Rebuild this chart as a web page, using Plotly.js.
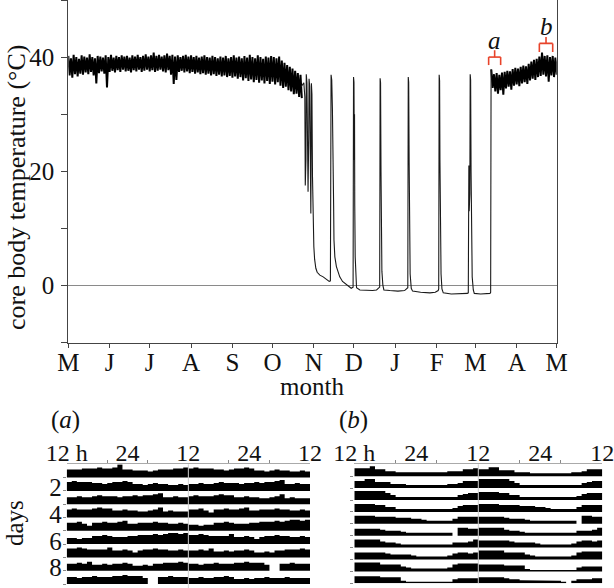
<!DOCTYPE html>
<html>
<head>
<meta charset="utf-8">
<script src="https://cdn.plot.ly/plotly-3.0.1.min.js"></script>
<style>
    html, body { margin: 0; padding: 0; background: #fff; }
    #chart { width: 614px; height: 588px; }
</style>
</head>
<body>
<div id="chart"></div>
<script>
// x axis of the year-long record
const monthStarts = ['2007-05-01', '2007-06-01', '2007-07-01', '2007-08-01', '2007-09-01', '2007-10-01',
    '2007-11-01', '2007-12-01', '2008-01-01', '2008-02-01', '2008-03-01', '2008-04-01', '2008-05-01'];
const monthLabels = ['M', 'J', 'J', 'A', 'S', 'O', 'N', 'D', 'J', 'F', 'M', 'A', 'M'];

// euthermic band before hibernation: upper / lower edge, one reading every 2 days from 1 May
const summerStart = '2007-05-01';
const summerHigh = [40.2, 39.8, 40.4, 40.0, 39.7, 40.3, 40.1, 39.9, 40.5, 40.0,
    39.8, 40.2, 40.1, 39.9, 40.3, 40.0, 40.4, 39.9, 40.2, 40.0,
    40.3, 40.1, 40.2, 39.9, 40.3, 40.1, 40.4, 40.0, 40.2, 40.5,
    40.1, 40.3, 40.8, 40.2, 40.4, 40.1, 40.3, 40.6, 40.2, 40.4,
    40.1, 40.3, 40.0, 40.2, 40.4, 40.1, 40.3, 40.0, 40.2, 39.9,
    40.1, 40.3, 40.0, 39.9, 40.2, 40.0, 39.8, 40.1, 39.9, 40.2,
    39.8, 40.0, 40.3, 39.9, 40.1, 39.8, 40.2, 39.9, 40.4, 40.0,
    39.8, 40.3, 40.0, 39.7, 40.1, 39.9, 40.2, 40.0, 39.8, 40.1,
    39.4, 39.0, 38.6, 38.3, 38.0, 37.6, 37.2, 36.9];
const summerLow = [36.8, 36.4, 37.0, 36.6, 37.1, 36.9, 37.3, 37.0, 37.4, 36.8,
    35.4, 37.2, 37.5, 37.1, 34.7, 37.4, 37.6, 37.3, 37.7, 37.4,
    37.8, 37.5, 37.6, 37.3, 37.7, 37.5, 37.8, 37.4, 37.6, 37.8,
    37.5, 37.7, 37.4, 37.6, 37.8, 37.5, 37.3, 37.7, 36.9, 35.3,
    36.0, 37.4, 37.6, 37.3, 37.5, 37.2, 37.4, 37.1, 37.3, 37.0,
    37.2, 36.9, 37.1, 36.8, 37.0, 36.7, 36.9, 36.6, 36.8, 36.5,
    36.7, 36.4, 36.6, 36.2, 36.5, 35.9, 36.3, 35.8, 36.1, 35.6,
    36.0, 35.5, 35.9, 35.4, 35.8, 35.3, 35.7, 35.2, 35.6, 35.0,
    34.6, 34.8, 34.2, 34.0, 33.5, 33.6, 33.0, 32.8];

// test drops, torpor bouts and arousals
const torporTimes = [
    '2007-10-22 12:00', '2007-10-24 12:00', '2007-10-25 06:00', '2007-10-25 14:00', '2007-10-26 02:00',
    '2007-10-26 08:00', '2007-10-26 20:00', '2007-10-27 08:00', '2007-10-27 16:00', '2007-10-28 04:00',
    '2007-10-28 10:00', '2007-10-28 22:00', '2007-10-29 10:00', '2007-10-29 18:00', '2007-10-30 00:00',
    '2007-10-30 04:00', '2007-10-30 14:00', '2007-10-31 00:00', '2007-10-31 12:00', '2007-11-01 00:00',
    '2007-11-01 14:00', '2007-11-02 12:00', '2007-11-03 12:00', '2007-11-05 12:00', '2007-11-08 00:00',
    '2007-11-10 12:00', '2007-11-12 12:00', '2007-11-13 10:00',
    '2007-11-13 16:00', '2007-11-13 22:00', '2007-11-14 10:00', '2007-11-14 22:00', '2007-11-15 10:00',
    '2007-11-15 20:00', '2007-11-16 02:00', '2007-11-16 18:00', '2007-11-17 22:00', '2007-11-20 10:00',
    '2007-11-22 12:00', '2007-11-25 10:00', '2007-11-29 00:00', '2007-11-30 10:00',
    '2007-11-30 14:00', '2007-11-30 18:00', '2007-12-01 02:00', '2007-12-01 08:00', '2007-12-01 12:00',
    '2007-12-01 16:00', '2007-12-02 00:00', '2007-12-02 12:00', '2007-12-03 00:00', '2007-12-05 12:00',
    '2007-12-10 12:00', '2007-12-15 00:00', '2007-12-18 00:00', '2007-12-19 18:00', '2007-12-20 08:00',
    '2007-12-20 12:00', '2007-12-20 16:00', '2007-12-21 00:00', '2007-12-21 08:00', '2007-12-21 14:00',
    '2007-12-22 00:00', '2007-12-22 18:00', '2007-12-23 12:00', '2007-12-28 00:00', '2008-01-03 00:00',
    '2008-01-08 00:00', '2008-01-09 18:00', '2008-01-10 10:00',
    '2008-01-10 14:00', '2008-01-10 18:00', '2008-01-11 02:00', '2008-01-11 10:00', '2008-01-11 16:00',
    '2008-01-12 04:00', '2008-01-13 00:00', '2008-01-14 00:00', '2008-01-20 00:00', '2008-01-27 00:00',
    '2008-01-31 00:00', '2008-02-02 04:00', '2008-02-02 14:00',
    '2008-02-02 18:00', '2008-02-02 22:00', '2008-02-03 06:00', '2008-02-03 12:00', '2008-02-03 20:00',
    '2008-02-04 08:00', '2008-02-05 00:00', '2008-02-06 00:00', '2008-02-12 00:00', '2008-02-18 00:00',
    '2008-02-24 00:00', '2008-02-24 18:00', '2008-02-25 04:00', '2008-02-25 10:00', '2008-02-25 22:00',
    '2008-02-26 04:00', '2008-02-26 12:00', '2008-02-26 20:00', '2008-02-27 04:00', '2008-02-27 16:00',
    '2008-02-28 12:00', '2008-02-29 06:00', '2008-03-05 00:00', '2008-03-10 00:00', '2008-03-12 00:00',
    '2008-03-12 12:00', '2008-03-12 16:00', '2008-03-12 20:00', '2008-03-13 00:00'
];
const torporTemps = [
    34.8, 35.5, 33.0, 17.5, 22.0,
    37.0, 35.5, 24.0, 16.4, 26.0,
    36.2, 34.8, 21.0, 12.6, 24.0,
    35.4, 33.5, 19.0, 10.5, 6.8,
    4.6, 3.0, 2.3, 1.8, 1.5,
    1.1, 0.7, 0.8,
    20.0, 36.9, 36.0, 31.0, 25.0,
    14.0, 8.0, 5.0, 3.3, 1.5,
    0.7, 0.1, -0.5, -0.3,
    14.0, 36.5, 35.6, 22.0, 30.0,
    14.0, 5.0, 1.0, -0.4, -0.8,
    -0.9, -0.9, -0.8, -0.5, -0.3,
    16.0, 36.3, 35.5, 20.0, 8.0,
    2.5, 0.0, -0.8, -0.9, -1.0,
    -0.9, -0.6, -0.4,
    18.0, 36.5, 35.6, 22.0, 9.0,
    2.0, -0.5, -1.0, -1.2, -1.3,
    -1.2, -0.9, -0.6,
    18.0, 36.9, 35.8, 22.0, 9.0,
    2.0, -0.6, -1.3, -1.5, -1.5,
    -1.4, -1.3, 21.0, 13.0, 16.0,
    37.0, 36.0, 20.0, 8.0, 1.5,
    -0.8, -1.4, -1.5, -1.5, -1.4,
    -1.2, 20.0, 37.9, 37.0
];

// euthermic band after the final arousal, every 2 days from 13 March
const springStart = '2008-03-13';
const springHigh = [37.8, 37.0, 37.2, 36.9, 37.3, 37.4, 37.6, 37.5, 37.9, 38.1, 38.0, 38.3, 38.5,
    38.4, 38.8, 39.2, 39.5, 39.7, 40.1, 40.8, 40.2, 40.3, 40.0, 40.2, 39.9, 39.8];
const springLow = [34.6, 34.0, 33.6, 34.2, 33.4, 34.5, 34.8, 34.3, 35.0, 35.2, 34.9, 35.4, 35.6,
    35.3, 35.9, 36.2, 36.0, 36.5, 36.7, 36.9, 36.6, 35.7, 36.8, 36.5, 36.9, 36.6];

// periods shown in the actograms below
const periodNames = ['a', 'b'];
const periodStarts = ['2008-03-11', '2008-04-18'];
const periodEnds = ['2008-03-20', '2008-04-28'];

// actograms: hourly activity, noon to noon, one array per day (double plotted)
const hourTicks = [12, 24, 36, 48, 60];
const hourLabels = ['12 h', '24', '12', '24', '12'];
const activityA = [
    [8, 8, 8, 9, 9, 9, 10, 9, 9, 10, 13, 8, 8, 7, 7, 7, 6, 7, 8, 8, 8, 9, 9, 10],
    [9, 10, 9, 9, 9, 8, 8, 7, 8, 9, 9, 10, 9, 7, 7, 6, 7, 8, 7, 7, 6, 6, 7, 6],
    [7, 7, 8, 7, 7, 8, 9, 8, 8, 8, 7, 8, 8, 9, 8, 9, 9, 10, 11, 7, 7, 8, 7, 7],
    [8, 9, 8, 8, 8, 9, 10, 9, 9, 7, 7, 8, 7, 7, 6, 6, 7, 8, 10, 6, 7, 6, 6, 6],
    [8, 8, 9, 7, 5, 8, 8, 9, 8, 8, 9, 10, 7, 7, 8, 8, 8, 9, 8, 8, 7, 7, 8, 7],
    [6, 6, 5, 6, 6, 8, 8, 9, 8, 7, 7, 7, 8, 8, 9, 9, 9, 10, 9, 10, 11, 11, 10, 11],
    [9, 9, 10, 9, 8, 8, 8, 8, 10, 7, 7, 8, 7, 5, 7, 8, 8, 9, 8, 8, 7, 7, 8, 7],
    [7, 7, 8, 7, 9, 6, 6, 7, 6, 7, 7, 8, 7, 5, 5, 6, 5, 7, 7, 8, 8, 8, 9, 8],
    [7, 7, 6, 7, 7, 8, 7, 7, 7, 8, 8, 9, 8, 8, 8, 6, 0, 0, 7, 7, 8, 7, 7, 7],
    [6, 6, 7, 6, 6, 7, 7, 8, 7, 5, 5, 6, 5, 6, 6, 7, 6, 6, 6, 7, 6, 6, 6, 6]
];
const activityB = [
    [8, 8, 8, 10, 7, 7, 5, 5, 4, 4, 4, 4, 4, 4, 4, 4, 4, 4, 5, 5, 5, 7, 7, 8],
    [7, 7, 9, 9, 6, 6, 6, 4, 4, 4, 3, 2.5, 2.5, 2.5, 2.5, 2.5, 2.5, 3, 4, 4, 5, 7, 7, 7],
    [9, 9, 9, 9, 9, 9, 7, 5, 3, 2.5, 2.5, 2.5, 2.5, 2.5, 2.5, 2.5, 2.5, 2.5, 3, 3, 5, 6, 7, 7],
    [8, 8, 8, 8, 7, 7, 5, 5, 3, 3, 3, 3, 3, 3, 3, 3, 3, 3, 3, 4, 6, 7, 7, 7],
    [8, 8, 8, 8, 7, 7, 7, 7, 6, 6, 6, 5, 5, 4, 3, 3, 3, 3, 3, 5, 7, 7, 7, 7],
    [7, 7, 7, 7, 7, 6, 5, 5, 5, 4, 3, 3, 3, 3, 3, 3, 3, 3, 3, 0, 8, 8, 7, 7],
    [8, 8, 8, 8, 8, 6, 5, 5, 4, 3, 3, 2.5, 2.5, 2.5, 2.5, 2.5, 2.5, 2.5, 3, 5, 5, 5, 6, 8],
    [7, 7, 7, 7, 7, 7, 6, 5, 5, 5, 5, 4, 3, 3, 3, 3, 3, 3, 4, 6, 7, 7, 6, 7],
    [9, 9, 9, 9, 9, 7, 7, 7, 7, 5, 4, 3, 3, 3, 3, 3, 3, 3, 4, 7, 8, 8, 8, 8],
    [7, 7, 7, 7, 7, 6, 6, 6, 6, 2.5, 1.5, 1.5, 1.5, 1.5, 1.5, 1.5, 1.5, 1.5, 1.5, 4, 5, 5, 5, 5],
    [6, 6, 6, 6, 6, 5, 4, 4, 3, 3, 3, 3, 3, 2.5, 2.5, 2.5, 1.5, 0, 2.5, 4, 4, 4, 5, 5]
];

const W = 614, H = 588;
const DAY = 86400000;
const serif = '"Liberation Serif", "Times New Roman", serif';
const ink = '#111';
const braceRed = '#e8432a';

function px(x) { return x / W; }
function py(y) { return 1 - y / H; }

// the band is drawn as a dense zigzag: high reading, then low reading a day later
function bandTrace(start, high, low) {
    const t0 = Date.parse(start);
    const x = [], y = [];
    high.forEach((hi, i) => {
        x.push(t0 + 2 * i * DAY); y.push(hi);
        x.push(t0 + (2 * i + 1) * DAY); y.push(low[i]);
    });
    return {
        x: x, y: y, type: 'scatter', mode: 'lines',
        line: { color: '#000', width: 2 }, hoverinfo: 'skip', xaxis: 'x', yaxis: 'y'
    };
}

// one filled step outline per actogram row: day k followed by day k+1
function actogramTraces(days, rowCount, slotPx, xaxis, yaxis) {
    const traces = [];
    for (let k = 0; k < rowCount; k++) {
        const values = days[k].concat(days[k + 1]);
        const base = -(k + 1);
        const x = [12], y = [base];
        values.forEach((v, h) => {
            x.push(12 + h, 13 + h);
            y.push(base + v / slotPx, base + v / slotPx);
        });
        x.push(60); y.push(base);
        traces.push({
            x: x, y: y, type: 'scatter', mode: 'lines', fill: 'toself', fillcolor: '#000',
            line: { width: 0, color: '#000' }, hoverinfo: 'skip', xaxis: xaxis, yaxis: yaxis
        });
    }
    return traces;
}

function braceShapes(start, end, stemTop, mid, legBottom) {
    const s = Date.parse(start), e = Date.parse(end), c = (s + e) / 2;
    const line = { color: braceRed, width: 1.6 };
    const seg = (x0, y0, x1, y1) => ({ type: 'line', xref: 'x', yref: 'y', x0: x0, y0: y0, x1: x1, y1: y1, line: line, layer: 'above' });
    return [
        seg(s, legBottom, s, mid),
        seg(s, mid, e, mid),
        seg(e, mid, e, legBottom),
        seg(c, mid, c, stemTop)
    ];
}

const traces = [].concat(
    [bandTrace(summerStart, summerHigh, summerLow), bandTrace(springStart, springHigh, springLow)],
    [{
        x: torporTimes, y: torporTemps, type: 'scatter', mode: 'lines',
        line: { color: '#1a1a1a', width: 1.1 }, hoverinfo: 'skip', xaxis: 'x', yaxis: 'y'
    }],
    actogramTraces(activityA, 9, 13.3, 'x2', 'y2'),
    actogramTraces(activityB, 10, 11.9, 'x3', 'y3')
);

const braceLevels = [[41.2, 40.0, 38.6], [43.5, 42.4, 40.9]];
const braceTextY = [42.9, 45.4];
let shapes = [];
const annotations = [];
periodNames.forEach((name, i) => {
    const lv = braceLevels[i];
    shapes = shapes.concat(braceShapes(periodStarts[i], periodEnds[i], lv[0], lv[1], lv[2]));
    annotations.push({
        xref: 'x', yref: 'y', x: (Date.parse(periodStarts[i]) + Date.parse(periodEnds[i])) / 2, y: braceTextY[i],
        text: '<i>' + name + '</i>', showarrow: false, font: { family: serif, size: 25, color: ink },
        xanchor: 'center', yanchor: 'middle'
    });
});

['x2', 'x3'].forEach(ax => {
    shapes.push({
        type: 'line', xref: ax, yref: (ax === 'x2' ? 'y2' : 'y3') + ' domain', x0: 36, x1: 36, y0: 0, y1: 1,
        line: { color: '#cfcfcf', width: 1 }, layer: 'above'
    });
});

function paperText(text, x, y, size, angle) {
    return {
        xref: 'paper', yref: 'paper', x: px(x), y: py(y), text: text, showarrow: false,
        textangle: angle || 0, xanchor: 'center', yanchor: 'middle',
        font: { family: serif, size: size, color: ink }
    };
}
annotations.push(paperText('core body temperature (°C)', 16, 188, 26, -90));
annotations.push(paperText('month', 312, 386, 25));
annotations.push(paperText('(<i>a</i>)', 65, 420, 25));
annotations.push(paperText('(<i>b</i>)', 353, 420, 25));
annotations.push(paperText('days', 14, 523, 25, -90));

function actoXAxis(domain, anchor) {
    return {
        domain: domain, range: [12, 60], side: 'top', anchor: anchor,
        tickmode: 'array', tickvals: hourTicks, ticktext: hourLabels, ticks: '',
        minor: { tickmode: 'array', tickvals: [20, 28, 44, 52], ticks: 'outside', ticklen: 3, tickcolor: '#888', tickwidth: 1 },
        showline: true, linecolor: '#aaa', linewidth: 1, showgrid: false, zeroline: false,
        ticklabelstandoff: -7, ticklabeloverflow: 'allow',
        tickfont: { family: serif, size: 24, color: ink }, fixedrange: true
    };
}

function rowBoundaries(n) {
    const out = [];
    for (let k = 1; k <= n; k++) out.push(-k);
    return out;
}

const layout = {
    width: W, height: H,
    margin: { l: 0, r: 0, t: 0, b: 0 },
    paper_bgcolor: '#fff', plot_bgcolor: 'rgba(0,0,0,0)',
    showlegend: false,
    font: { family: serif, size: 24, color: ink },
    xaxis: {
        type: 'date', domain: [px(68.3), px(556.7)], range: ['2007-05-01', '2008-05-01'], anchor: 'y',
        tickmode: 'array', tickvals: monthStarts, ticktext: monthLabels,
        ticks: 'outside', ticklen: 4, tickcolor: '#444', tickwidth: 1, ticklabelstandoff: -7,
        showline: true, linecolor: '#444', linewidth: 1, mirror: true,
        showgrid: false, zeroline: false, tickfont: { family: serif, size: 25, color: ink }
    },
    yaxis: {
        domain: [py(342.5), 1], range: [-10, 50], anchor: 'x',
        tickmode: 'array', tickvals: [-10, 0, 10, 20, 30, 40, 50], ticktext: ['', '0', '', '20', '', '40', ''],
        ticks: 'outside', ticklen: 6, tickcolor: '#444', tickwidth: 1, ticklabelstandoff: 2,
        showline: true, linecolor: '#444', linewidth: 1, mirror: true,
        showgrid: false, zeroline: true, zerolinecolor: '#8a8a8a', zerolinewidth: 1,
        tickfont: { family: serif, size: 25, color: ink }
    },
    xaxis2: actoXAxis([px(66.7), px(310)], 'y2'),
    yaxis2: {
        domain: [0, py(464.3)], range: [-(H - 464.3) / 13.3, 0], anchor: 'x2',
        tickmode: 'array', tickvals: [-1.76, -3.76, -5.76, -7.76], ticktext: ['2', '4', '6', '8'], ticks: '',
        minor: { tickmode: 'array', tickvals: rowBoundaries(9), ticks: 'outside', ticklen: 3, tickcolor: '#888' },
        showline: false, showgrid: false, zeroline: false, ticklabelstandoff: 4,
        tickfont: { family: serif, size: 25, color: ink }, fixedrange: true
    },
    xaxis3: actoXAxis([px(354.3), px(602.3)], 'y3'),
    yaxis3: {
        domain: [py(583.3), py(464.3)], range: [-10, 0], anchor: 'x3',
        showticklabels: false, ticks: '',
        minor: { tickmode: 'array', tickvals: rowBoundaries(10), ticks: 'outside', ticklen: 3, tickcolor: '#888' },
        showline: false, showgrid: false, zeroline: false, fixedrange: true
    },
    shapes: shapes,
    annotations: annotations
};

Plotly.newPlot('chart', traces, layout, { staticPlot: true, displayModeBar: false });
</script>
</body>
</html>
